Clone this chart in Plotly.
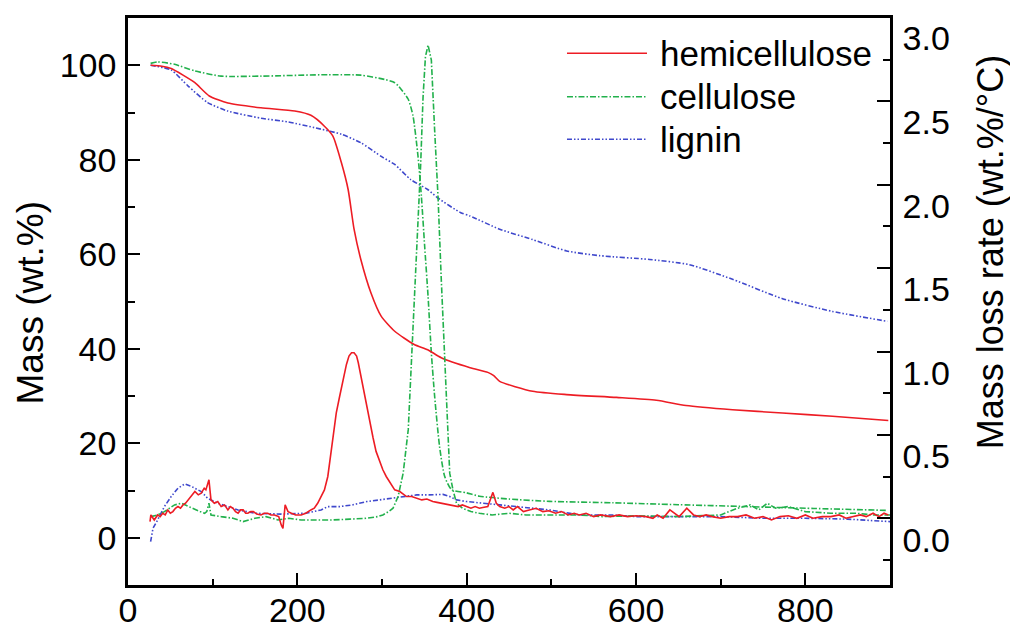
import plotly.graph_objects as go

# ---------------- data ----------------
# TG curves: temperature (°C) vs mass (wt.%)
hemi_tg_T = [26.7, 40, 51, 65, 79, 96, 118, 157, 197, 216, 232, 242, 252, 260, 267, 275, 287, 299, 315, 338, 354, 370, 404, 425, 432, 439, 478, 518, 577, 624, 659, 714, 773, 832, 898]
hemi_tg_m = [100.0, 99.8, 99.3, 97.9, 96.3, 93.5, 92.0, 91.0, 90.3, 89.4, 87.1, 85.0, 79.4, 73.7, 65.3, 58.9, 51.8, 46.9, 43.7, 40.9, 39.8, 38.1, 36.0, 35.0, 34.3, 33.1, 31.0, 30.3, 29.7, 29.1, 28.0, 27.1, 26.4, 25.7, 24.8]

cell_tg_T = [26.7, 35, 55, 79, 110, 157, 236, 275, 303, 315, 320, 331, 336.6, 342.5, 346.5, 350.4, 354.4, 358.3, 362.2, 368, 374, 382, 400, 415, 450, 498, 573, 650, 730, 810, 895]
cell_tg_m = [100.4, 100.7, 100.2, 98.8, 97.7, 97.7, 98.0, 97.9, 97.0, 96.3, 95.5, 92.8, 89.3, 80.8, 72.3, 61.7, 51.1, 39.1, 29.9, 19.3, 13.0, 10.2, 9.5, 8.8, 8.2, 7.7, 7.4, 7.0, 6.6, 6.2, 5.8]

lig_tg_T = [26.7, 51, 71, 94, 118, 157, 189, 220, 252, 275, 300, 315, 334, 354, 366, 393, 404, 439, 478, 518, 557, 616, 663, 714, 773, 832, 897]
lig_tg_m = [100.0, 99.0, 95.6, 92.1, 90.3, 88.8, 88.0, 86.8, 85.4, 83.6, 80.6, 79.0, 75.8, 73.7, 71.9, 68.8, 68.1, 65.3, 63.1, 60.7, 59.7, 58.9, 57.8, 54.7, 50.6, 47.9, 45.8]

# DTG curves: temperature (°C) vs mass loss rate (wt.%/°C)
hemi_dtg_T = [26, 27, 31, 35, 38, 41, 44, 47, 50, 53, 56, 59, 62, 65, 68, 71, 75, 79, 83, 86.5, 90, 92, 95.6, 98, 102, 106, 110, 114, 118, 121, 124, 127, 130, 133, 136, 139, 141.6, 145, 148, 152, 157, 161, 165, 169, 173, 178, 181, 183, 185.6, 189, 193, 198, 204.5, 210, 216, 220, 224, 228, 232, 236, 239, 242, 246, 250, 254, 258, 261, 264, 267, 270, 272, 275, 278, 282, 286, 289.5, 293, 297, 301, 305, 309, 315, 321, 329, 335, 341, 347, 353, 360, 365, 370, 375, 380, 385, 390, 395, 400, 405, 410, 415, 419, 425, 431, 435, 439, 445, 450, 455, 460, 467, 474, 482, 490, 497, 505, 512, 520, 527, 533, 541, 550, 558, 570, 580, 590, 600, 612, 620, 625, 632, 640, 651, 660, 668, 675, 683, 690, 700, 710, 720, 730, 740, 750, 760, 770, 780, 790, 800, 809, 820, 830, 840, 848, 857, 865, 872, 880, 887, 893, 898]
hemi_dtg_r = [0.11, 0.15, 0.12, 0.15, 0.14, 0.16, 0.15, 0.18, 0.16, 0.17, 0.19, 0.20, 0.19, 0.21, 0.22, 0.24, 0.26, 0.29, 0.27, 0.28, 0.31, 0.30, 0.36, 0.24, 0.22, 0.23, 0.20, 0.21, 0.18, 0.20, 0.19, 0.17, 0.16, 0.18, 0.18, 0.16, 0.16, 0.17, 0.17, 0.155, 0.15, 0.16, 0.16, 0.15, 0.15, 0.14, 0.09, 0.07, 0.21, 0.17, 0.16, 0.15, 0.15, 0.16, 0.18, 0.19, 0.22, 0.26, 0.30, 0.38, 0.50, 0.63, 0.76, 0.86, 0.96, 1.05, 1.10, 1.12, 1.12, 1.10, 1.06, 0.98, 0.90, 0.80, 0.70, 0.61, 0.53, 0.47, 0.42, 0.38, 0.35, 0.30, 0.29, 0.26, 0.26, 0.25, 0.24, 0.245, 0.23, 0.225, 0.22, 0.215, 0.21, 0.205, 0.20, 0.21, 0.20, 0.19, 0.20, 0.19, 0.195, 0.20, 0.285, 0.22, 0.20, 0.19, 0.20, 0.18, 0.20, 0.17, 0.18, 0.19, 0.17, 0.175, 0.16, 0.17, 0.15, 0.16, 0.15, 0.16, 0.14, 0.15, 0.14, 0.15, 0.14, 0.145, 0.14, 0.13, 0.15, 0.13, 0.18, 0.14, 0.19, 0.15, 0.14, 0.15, 0.14, 0.13, 0.14, 0.14, 0.15, 0.13, 0.14, 0.12, 0.14, 0.145, 0.13, 0.15, 0.13, 0.14, 0.14, 0.15, 0.13, 0.14, 0.15, 0.14, 0.16, 0.14, 0.16, 0.15, 0.17, 0.15, 0.16]

cell_dtg_T = [27, 35, 43, 55, 63, 75, 85, 90.5, 93, 95.6, 98, 110, 124, 136, 150, 163, 177, 190, 204.5, 220, 242, 262, 282, 295, 301, 308, 313, 319, 325, 331, 334.7, 338.6, 342.5, 345.7, 348.5, 351.3, 354.4, 358.3, 362.2, 366.2, 370, 374, 377.2, 380, 383.8, 388, 395, 405, 415, 430, 450, 470, 500, 533, 560, 600, 650, 700, 720, 735, 745, 755, 765, 780, 800, 830, 860, 880, 900]
cell_dtg_r = [0.14, 0.15, 0.17, 0.21, 0.22, 0.19, 0.17, 0.16, 0.17, 0.22, 0.15, 0.14, 0.13, 0.11, 0.13, 0.14, 0.12, 0.13, 0.12, 0.12, 0.12, 0.125, 0.13, 0.14, 0.15, 0.17, 0.19, 0.26, 0.40, 0.66, 1.06, 1.46, 1.85, 2.25, 2.65, 2.89, 2.96, 2.87, 2.45, 2.05, 1.56, 1.06, 0.66, 0.40, 0.30, 0.22, 0.19, 0.17, 0.16, 0.15, 0.16, 0.15, 0.15, 0.15, 0.14, 0.145, 0.14, 0.15, 0.19, 0.21, 0.18, 0.22, 0.19, 0.20, 0.17, 0.16, 0.16, 0.15, 0.15]

lig_dtg_T = [26.7, 29.5, 35, 43, 51, 59, 67, 75, 86.5, 94, 106, 118, 130, 150, 180, 210, 228, 236, 250, 265, 282, 297, 313, 327, 341, 355, 372, 380, 388, 400, 419, 440, 459, 480, 498, 533, 570, 600, 650, 700, 750, 800, 850, 900]
lig_dtg_r = [-0.01, 0.07, 0.12, 0.20, 0.26, 0.31, 0.335, 0.32, 0.29, 0.25, 0.22, 0.20, 0.18, 0.16, 0.155, 0.16, 0.18, 0.20, 0.20, 0.21, 0.23, 0.24, 0.25, 0.26, 0.27, 0.27, 0.273, 0.26, 0.24, 0.23, 0.22, 0.21, 0.20, 0.19, 0.18, 0.15, 0.15, 0.14, 0.14, 0.14, 0.13, 0.13, 0.125, 0.11]

series_names = ["hemicellulose", "cellulose", "lignin"]
x_ticks = [0, 200, 400, 600, 800]
mass_ticks = [0, 20, 40, 60, 80, 100]
rate_ticks = [0.0, 0.5, 1.0, 1.5, 2.0, 2.5, 3.0]

# ---------------- styles ----------------
RED = "#ED1C24"
GREEN = "#22B14C"
BLUE = "#3F48CC"
DASH_CELL = "6px,2px,1.5px,2px"
DASH_LIG = "5px,2px,1.5px,2px,1.5px,2px"
FONT = "Liberation Sans, Arial, Helvetica, sans-serif"
FS = 34

styles = {
    "hemicellulose": dict(color=RED, width=1.6, dash="solid"),
    "cellulose": dict(color=GREEN, width=1.6, dash=DASH_CELL),
    "lignin": dict(color=BLUE, width=1.6, dash=DASH_LIG),
}

fig = go.Figure()

tg = {"hemicellulose": (hemi_tg_T, hemi_tg_m), "cellulose": (cell_tg_T, cell_tg_m), "lignin": (lig_tg_T, lig_tg_m)}
dtg = {"hemicellulose": (hemi_dtg_T, hemi_dtg_r), "cellulose": (cell_dtg_T, cell_dtg_r), "lignin": (lig_dtg_T, lig_dtg_r)}

for name in ["lignin", "cellulose", "hemicellulose"]:
    t, r = dtg[name]
    fig.add_trace(go.Scatter(x=t, y=r, mode="lines", line=styles[name], yaxis="y2",
                             showlegend=False, name=name + " DTG"))
for name in ["lignin", "cellulose", "hemicellulose"]:
    t, m = tg[name]
    fig.add_trace(go.Scatter(x=t, y=m, mode="lines", line=dict(**styles[name], shape="spline", smoothing=0.6),
                             yaxis="y", showlegend=False, name=name + " TG"))

# empty trace so the tick-mark axis (y3) is created
fig.add_trace(go.Scatter(x=[], y=[], yaxis="y3", showlegend=False, hoverinfo="skip"))

AX = dict(showgrid=False, zeroline=False, showline=True, linecolor="black", linewidth=2.5,
          ticks="inside", tickcolor="black", tickwidth=2, automargin=False,
          tickfont=dict(family=FONT, size=FS, color="black"))

fig.update_layout(
    width=1010, height=624,
    margin=dict(l=128, r=120, t=18, b=39, autoexpand=False),
    paper_bgcolor="white", plot_bgcolor="white",
    font=dict(family=FONT, size=FS, color="black"),
    xaxis=dict(**AX, range=[0, 900], tickmode="array", tickvals=x_ticks, ticklen=12,
               mirror=True, ticklabelstandoff=-7,
               minor=dict(ticks="inside", dtick=100, tick0=0, ticklen=6, tickwidth=2, tickcolor="black")),
    yaxis=dict(**AX, range=[-10, 110], tickmode="array", tickvals=mass_ticks, ticklen=12,
               ticklabelstandoff=2,
               minor=dict(ticks="inside", dtick=10, tick0=0, ticklen=7, tickwidth=2, tickcolor="black")),
    yaxis2=dict(showgrid=False, zeroline=False, showline=True, linecolor="black", linewidth=2.5,
                overlaying="y", side="right", anchor="x", range=[-0.269, 3.122], automargin=False,
                tickmode="array", tickvals=rate_ticks, tickformat=".1f", ticks="",
                ticklabelstandoff=3,
                tickfont=dict(family=FONT, size=FS, color="black")),
    yaxis3=dict(showgrid=False, zeroline=False, showline=False, automargin=False,
                overlaying="y", side="right", anchor="x", range=[-0.4, 3.0],
                tickmode="linear", tick0=0, dtick=0.5, ticks="inside", ticklen=13,
                tickwidth=2, tickcolor="black", showticklabels=False,
                minor=dict(ticks="inside", dtick=0.25, tick0=0, ticklen=7, tickwidth=2, tickcolor="black")),
    showlegend=False,
)

# axis titles
fig.add_annotation(text="Mass (wt.%)", xref="paper", yref="paper", x=-0.128, y=0.4991,
                   xanchor="center", yanchor="middle", textangle=-90, showarrow=False,
                   font=dict(family=FONT, size=37, color="black"))
fig.add_annotation(text="Mass loss rate (wt.%/°C)", xref="paper", yref="paper", x=1.1315, y=0.5873,
                   xanchor="center", yanchor="middle", textangle=-90, showarrow=False,
                   font=dict(family=FONT, size=36, color="black"))

# legend (drawn manually to match the long line samples)
leg_y = [0.9377, 0.8612, 0.7861]
for name, yy in zip(series_names, leg_y):
    st = styles[name]
    fig.add_shape(type="line", xref="paper", yref="paper", x0=0.5761, x1=0.6811, y0=yy, y1=yy,
                  line=dict(color=st["color"], width=st["width"], dash=st["dash"]))
    fig.add_annotation(text=name, xref="paper", yref="paper", x=0.6955, y=yy,
                       xanchor="left", yanchor="middle", showarrow=False,
                       font=dict(family=FONT, size=35, color="black"))

fig.write_html("out.html", post_script="document.body.style.margin='0px';",
               config={"displayModeBar": False})
